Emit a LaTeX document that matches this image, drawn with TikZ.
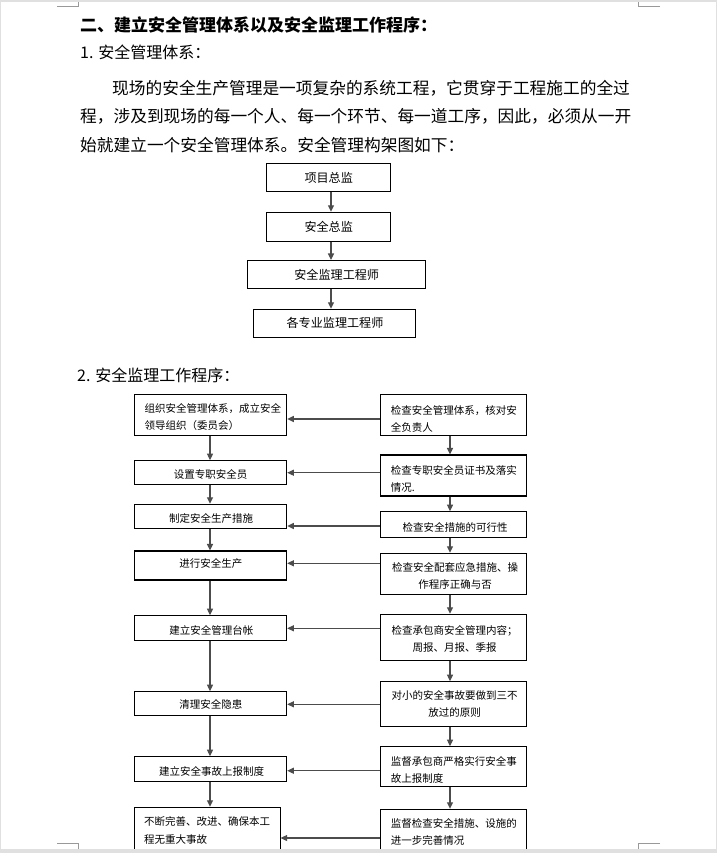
\documentclass[tikz,border=0pt]{standalone}
\usepackage{fontspec}
\setmainfont{Noto Sans CJK SC}
\usetikzlibrary{arrows.meta}
\begin{document}
\begin{tikzpicture}[x=1pt,y=-1pt]
\tikzset{
 boxs/.style={draw=black, line width=1.1pt, inner sep=0pt},
 conn/.style={draw=black!70, line width=1.1pt, -{Triangle[length=6.5pt,width=6pt]}},
 ttop/.style={inner sep=0pt, font=\fontsize{12.1}{14}\selectfont},
 tbot/.style={inner sep=0pt, font=\fontsize{10.5}{17}\selectfont},
 tbody/.style={inner sep=0pt, anchor=west, font=\fontsize{16.7}{20}\selectfont},
 tsec/.style={inner sep=0pt, anchor=west, font=\fontsize{16}{20}\selectfont},
 cornermark/.style={draw=black!40, line width=0.8pt},
}
\useasboundingbox (0,0) rectangle (717,853);
\clip (0,0) rectangle (717,853);
\fill[black!12] (0,0) rectangle (717,853);
\fill[white] (1,2) rectangle (716,849);

% headings and paragraph
\node[tbody, font=\fontsize{17}{20}\selectfont\bfseries] (head) at (80,25) {二、建立安全管理体系以及安全监理工作程序：};
\node[tsec] (sec1) at (80,52) {1. 安全管理体系：};
\node[tbody] (p1) at (112,88.3) {现场的安全生产管理是一项复杂的系统工程，它贯穿于工程施工的全过};
\node[tbody] (p2) at (80,116.7) {程，涉及到现场的每一个人、每一个环节、每一道工序，因此，必须从一开};
\node[tbody] (p3) at (80,145) {始就建立一个安全管理体系。安全管理构架图如下：};
\node[tsec] (sec2) at (77,375) {2. 安全监理工作程序：};

% top chart
\node[boxs, minimum width=124, minimum height=27.7] (b1) at (328.7,177.2) {};
\node[boxs, minimum width=124, minimum height=28.7] (b2) at (328.7,226.7) {};
\node[boxs, minimum width=177.7, minimum height=28.2] (b3) at (336.2,274.6) {};
\node[boxs, minimum width=162.4, minimum height=28.2] (b4) at (334.5,323.4) {};
\node[ttop] (b1t) at (328.7,178.3) {项目总监};
\node[ttop] (b2t) at (328.7,226.7) {安全总监};
\node[ttop] (b3t) at (336.7,275) {安全监理工程师};
\node[ttop] (b4t) at (335,322.7) {各专业监理工程师};
\coordinate (ta) at (331,0);
\draw[conn] (b1.south -| ta) -- (b2.north -| ta);
\draw[conn] (b2.south -| ta) -- (b3.north -| ta);
\draw[conn] (b3.south -| ta) -- (b4.north -| ta);

% bottom chart, left column
\node[boxs, minimum width=152.4, minimum height=41.4] (l1) at (210.5,415) {};
\node[boxs, minimum width=152.4, minimum height=23.6] (l2) at (210.5,472.5) {};
\node[boxs, minimum width=152.4, minimum height=24] (l3) at (210.5,516.3) {};
\node[boxs, minimum width=152.4, minimum height=29] (l4) at (210.5,565.5) {};
\node[boxs, minimum width=152.4, minimum height=25] (l5) at (210.5,628.2) {};
\node[boxs, minimum width=152.4, minimum height=23.6] (l6) at (210.5,703.5) {};
\node[boxs, minimum width=152.4, minimum height=25] (l7) at (210.5,769.2) {};
\node[boxs, minimum width=145.7, minimum height=72.7] (l8) at (207.2,843.7) {};
\node[tbot, anchor=west, align=left] (l1t) at (144.3,417.3) {组织安全管理体系，成立安全\\领导组织（委员会）};
\node[tbot] (l2t) at (210.5,474.3) {设置专职安全员};
\node[tbot] (l3t) at (211,518.3) {制定安全生产措施};
\node[tbot] (l4t) at (210.8,563.3) {进行安全生产};
\node[tbot] (l5t) at (211.3,630) {建立安全管理台帐};
\node[tbot] (l6t) at (210.8,704) {清理安全隐患};
\node[tbot] (l7t) at (211.7,771.7) {建立安全事故上报制度};
\node[tbot, anchor=west, align=left, font=\fontsize{10.5}{18.5}\selectfont] (l8t) at (144,830.3) {不断完善、改进、确保本工\\程无重大事故};

% bottom chart, right column
\node[boxs, minimum width=146, minimum height=41.4] (r1) at (453.7,415) {};
\node[boxs, minimum width=146, minimum height=41] (r2) at (453.7,475.5) {};
\node[boxs, minimum width=146, minimum height=26] (r3) at (453.7,524.7) {};
\node[boxs, minimum width=146, minimum height=40.7] (r4) at (453.7,573.7) {};
\node[boxs, minimum width=146, minimum height=45.7] (r5) at (453.7,637.2) {};
\node[boxs, minimum width=146, minimum height=45] (r6) at (453.7,704.2) {};
\node[boxs, minimum width=146, minimum height=40] (r7) at (453.7,766.7) {};
\node[boxs, minimum width=146, minimum height=70.7] (r8) at (453.7,844.7) {};
\node[tbot, anchor=west, align=left] (r1t) at (390.7,418.7) {检查安全管理体系，核对安\\全负责人};
\node[tbot, anchor=west, align=left] (r2t) at (390.7,478.7) {检查专职安全员证书及落实\\情况.};
\node[tbot] (r3t) at (455,527.3) {检查安全措施的可行性};
\node[tbot, align=center] (r4t) at (455,576.3) {检查安全配套应急措施、操\\作程序正确与否};
\node[tbot, align=center] (r5t) at (454.5,638.5) {检查承包商安全管理内容；\\周报、月报、季报};
\node[tbot, align=center] (r6t) at (454.7,704.2) {对小的安全事故要做到三不\\放过的原则};
\node[tbot, anchor=west, align=left] (r7t) at (390.7,769.7) {监督承包商严格实行安全事\\故上报制度};
\node[tbot, anchor=west, align=left] (r8t) at (390.7,832) {监督检查安全措施、设施的\\进一步完善情况};

% vertical connectors
\coordinate (la) at (210,0);
\coordinate (ra) at (450,0);
\foreach \a/\b in {l1/l2,l2/l3,l3/l4,l4/l5,l5/l6,l6/l7,l7/l8}
  \draw[conn] (\a.south -| la) -- (\b.north -| la);
\foreach \a/\b in {r1/r2,r2/r3,r3/r4,r4/r5,r5/r6,r6/r7,r7/r8}
  \draw[conn] (\a.south -| ra) -- (\b.north -| ra);

% horizontal connectors
\foreach \i/\yy in {1/419,2/472.7,3/526,4/563.3,5/628.3,6/704.3,7/770.7,8/838}
  \coordinate (h\i) at (0,\yy);
\foreach \i in {1,...,8}
  \draw[conn] (r\i.west |- h\i) -- (l\i.east |- h\i);

% page edges and corner marks
\fill[black!12] (0,849) rectangle (717,853);
\fill[black!12] (0,0) rectangle (717,2);
\draw[cornermark] (57,6) -- (78,6) -- (78,2);
\draw[cornermark] (660,6) -- (638,6) -- (638,2);
\draw[cornermark] (57,843) -- (78,843) -- (78,849);
\draw[cornermark] (660,843) -- (638,843) -- (638,849);
\end{tikzpicture}
\end{document}
